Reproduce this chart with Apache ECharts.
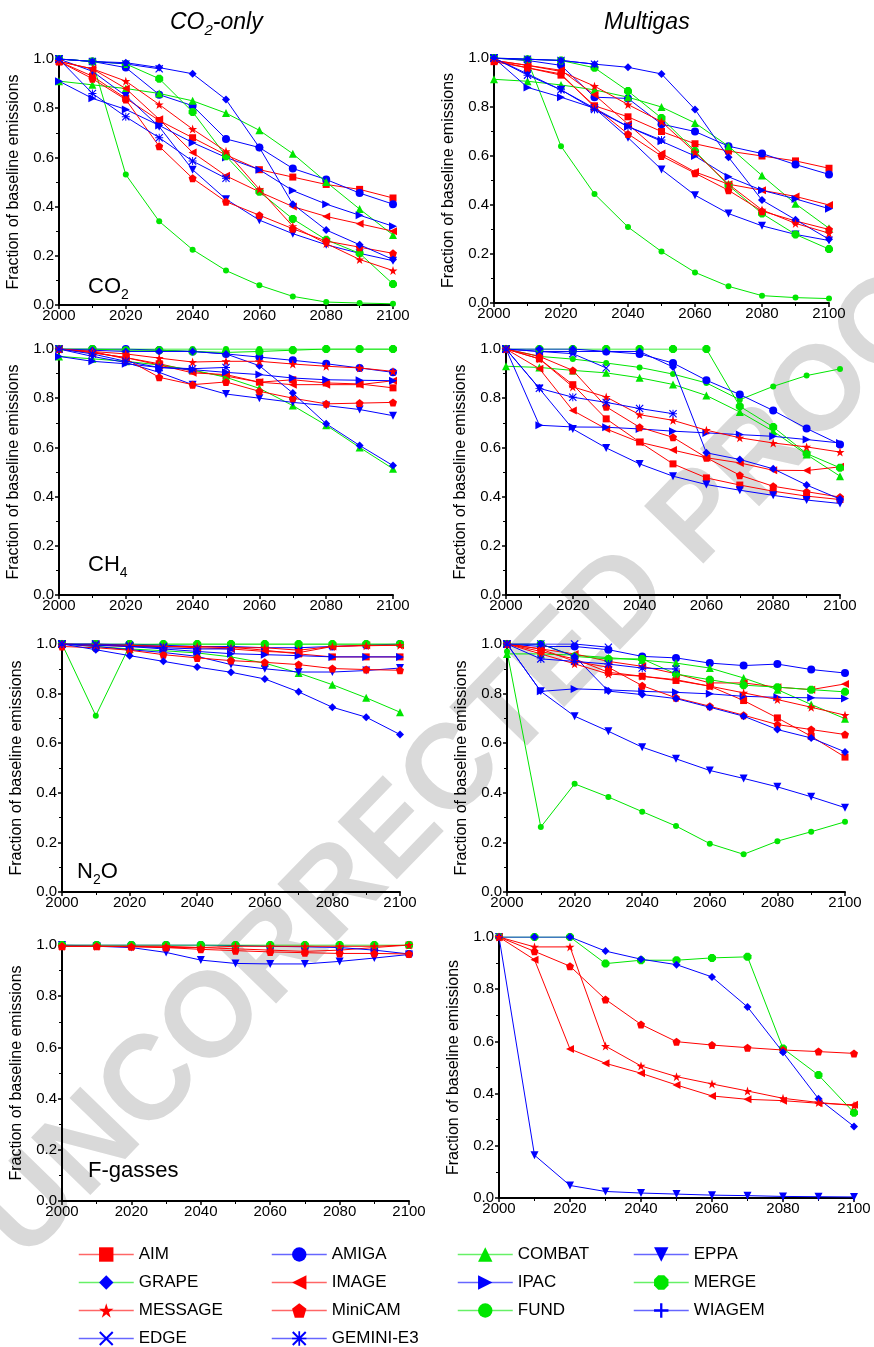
<!DOCTYPE html>
<html>
<head>
<meta charset="utf-8">
<script src="https://cdn.jsdelivr.net/npm/echarts@6/dist/echarts.min.js"></script>
<style>
html,body{margin:0;padding:0;background:#fff;}
#chart{width:874px;height:1347px;}
</style>
</head>
<body>
<div id="chart"></div>
<script>
// ---------------- DATA ----------------
const years = [2000, 2010, 2020, 2030, 2040, 2050, 2060, 2070, 2080, 2090, 2100];
const xTicks = [2000, 2020, 2040, 2060, 2080, 2100];
const yTicks = [0.0, 0.2, 0.4, 0.6, 0.8, 1.0];
const models = ['AIM','AMIGA','COMBAT','EPPA','GRAPE','IMAGE','IPAC','MERGE','MESSAGE','MiniCAM','FUND','WIAGEM','EDGE','GEMINI-E3'];
const columnTitles = ['CO2-only', 'Multigas'];
const gasLabels = ['CO2', 'CH4', 'N2O', 'F-gasses'];
const yAxisTitle = 'Fraction of baseline emissions';

// CO2-only scenario, CO2
const co2only_CO2 = {
  'AIM':      [0.99,0.93,0.84,0.75,0.68,0.61,0.55,0.52,0.49,0.47,0.435],
  'AMIGA':    [1.0,0.99,0.965,0.855,0.81,0.675,0.64,0.555,0.51,0.455,0.41],
  'COMBAT':   [0.91,0.895,0.88,0.86,0.83,0.78,0.71,0.615,0.50,0.39,0.285],
  'EPPA':     [1.0,0.95,0.85,0.725,0.55,0.43,0.345,0.29,0.245,0.21,0.18],
  'GRAPE':    [1.0,0.99,0.985,0.965,0.94,0.835,0.64,0.41,0.305,0.245,0.185],
  'IMAGE':    [0.99,0.96,0.88,0.755,0.62,0.525,0.46,0.40,0.36,0.33,0.30],
  'IPAC':     [0.91,0.84,0.795,0.73,0.66,0.60,0.55,0.465,0.41,0.365,0.32],
  'MERGE':    [1.0,0.99,0.98,0.92,0.785,0.605,0.46,0.35,0.265,0.21,0.085],
  'MESSAGE':  [0.99,0.96,0.91,0.815,0.715,0.625,0.47,0.32,0.25,0.185,0.14],
  'MiniCAM':  [0.99,0.92,0.835,0.645,0.515,0.42,0.365,0.31,0.26,0.235,0.21],
  'FUND':     [1.0,0.99,0.53,0.34,0.225,0.14,0.08,0.035,0.012,0.008,0.005],
  'EDGE':     [1.0,0.99,0.98,0.96],
  'GEMINI-E3':[1.0,0.86,0.765,0.68,0.585,0.515]
};
// Multigas scenario, CO2
const multigas_CO2 = {
  'AIM':      [0.985,0.96,0.93,0.805,0.76,0.70,0.65,0.62,0.60,0.58,0.55],
  'AMIGA':    [1.0,0.99,0.97,0.84,0.835,0.73,0.70,0.64,0.61,0.565,0.525],
  'COMBAT':   [0.913,0.905,0.89,0.87,0.84,0.80,0.735,0.64,0.52,0.405,0.305],
  'EPPA':     [1.0,0.935,0.87,0.795,0.675,0.545,0.44,0.365,0.315,0.28,0.255],
  'GRAPE':    [1.0,0.995,0.99,0.975,0.962,0.935,0.79,0.595,0.42,0.34,0.26],
  'IMAGE':    [0.99,0.97,0.95,0.85,0.73,0.61,0.535,0.485,0.46,0.435,0.40],
  'IPAC':     [1.0,0.88,0.84,0.795,0.72,0.66,0.60,0.515,0.46,0.425,0.385],
  'MERGE':    [1.0,0.995,0.99,0.96,0.865,0.755,0.62,0.48,0.365,0.28,0.22],
  'MESSAGE':  [0.99,0.97,0.945,0.885,0.81,0.74,0.615,0.485,0.38,0.325,0.285],
  'MiniCAM':  [0.99,0.96,0.935,0.80,0.69,0.60,0.53,0.46,0.375,0.335,0.30],
  'FUND':     [1.0,0.99,0.64,0.445,0.31,0.21,0.125,0.068,0.03,0.022,0.018],
  'EDGE':     [1.0,0.995,0.99,0.975],
  'GEMINI-E3':[1.0,0.93,0.87,0.79,0.72,0.665]
};
// CO2-only scenario, CH4
const co2only_CH4 = {
  'AIM':      [1.0,0.985,0.965,0.94,0.91,0.89,0.865,0.875,0.862,0.858,0.842],
  'AMIGA':    [1.0,1.0,1.0,0.995,0.99,0.98,0.967,0.954,0.94,0.923,0.905],
  'COMBAT':   [0.97,0.96,0.95,0.935,0.915,0.885,0.84,0.77,0.69,0.60,0.513],
  'EPPA':     [1.0,0.97,0.945,0.905,0.855,0.817,0.80,0.783,0.77,0.754,0.729],
  'GRAPE':    [1.0,0.995,0.99,0.99,0.99,0.98,0.932,0.821,0.696,0.608,0.526],
  'IMAGE':    [1.0,0.985,0.965,0.935,0.903,0.896,0.865,0.855,0.855,0.855,0.871],
  'IPAC':     [0.97,0.95,0.94,0.925,0.916,0.905,0.896,0.882,0.875,0.873,0.871],
  'MERGE':    [1.0,1.0,0.995,0.995,0.99,0.986,0.99,0.995,1.0,1.0,1.0],
  'MESSAGE':  [1.0,0.99,0.98,0.963,0.947,0.95,0.95,0.939,0.93,0.923,0.909],
  'MiniCAM':  [1.0,0.99,0.96,0.885,0.855,0.866,0.828,0.80,0.777,0.78,0.783],
  'FUND':     [1.0,1.0,1.0,1.0,1.0,1.0,1.0,1.0,1.0,1.0,1.0],
  'GEMINI-E3':[1.0,0.98,0.95,0.925,0.92,0.925]
};
// Multigas scenario, CH4
const multigas_CH4 = {
  'AIM':      [1.0,0.96,0.855,0.716,0.622,0.533,0.476,0.447,0.422,0.402,0.388],
  'AMIGA':    [1.0,0.99,0.99,0.99,0.98,0.943,0.873,0.815,0.75,0.677,0.612],
  'COMBAT':   [0.93,0.925,0.913,0.903,0.883,0.856,0.811,0.744,0.666,0.571,0.483],
  'EPPA':     [1.0,0.839,0.675,0.598,0.533,0.483,0.449,0.426,0.405,0.386,0.372],
  'GRAPE':    [1.0,1.0,1.0,0.99,0.99,0.927,0.578,0.551,0.513,0.447,0.39],
  'IMAGE':    [1.0,0.92,0.75,0.675,0.621,0.589,0.558,0.537,0.507,0.506,0.521],
  'IPAC':     [1.0,0.69,0.683,0.682,0.675,0.666,0.659,0.652,0.645,0.632,0.618],
  'MERGE':    [1.0,1.0,1.0,1.0,1.0,1.0,1.0,0.767,0.683,0.575,0.517],
  'MESSAGE':  [1.0,0.96,0.846,0.805,0.733,0.71,0.67,0.639,0.618,0.602,0.581],
  'MiniCAM':  [1.0,0.97,0.913,0.765,0.682,0.641,0.558,0.487,0.442,0.42,0.398],
  'FUND':     [1.0,0.97,0.959,0.943,0.925,0.898,0.862,0.794,0.848,0.892,0.919],
  'EDGE':     [1.0,0.99,0.981,0.923],
  'GEMINI-E3':[1.0,0.84,0.804,0.783,0.758,0.737]
};
// CO2-only scenario, N2O
const co2only_N2O = {
  'AIM':      [1.0,1.0,0.995,0.99,0.99,0.987,0.975,0.96,0.948,0.948,0.948],
  'AMIGA':    [1.0,1.0,1.0,0.995,0.99,0.99,0.985,0.985,0.99,0.995,1.0],
  'COMBAT':   [1.0,0.99,0.98,0.973,0.964,0.948,0.923,0.883,0.836,0.783,0.725],
  'EPPA':     [1.0,0.99,0.977,0.966,0.95,0.917,0.90,0.887,0.887,0.893,0.903],
  'GRAPE':    [1.0,0.977,0.953,0.93,0.907,0.886,0.859,0.807,0.745,0.705,0.635],
  'IMAGE':    [1.0,0.995,0.99,0.99,0.985,0.98,0.97,0.965,0.99,0.995,0.995],
  'IPAC':     [1.0,1.0,0.99,0.98,0.97,0.961,0.957,0.953,0.948,0.948,0.948],
  'MERGE':    [1.0,1.0,1.0,1.0,1.0,1.0,1.0,1.0,1.0,1.0,1.0],
  'MESSAGE':  [1.0,0.995,0.995,0.99,0.99,0.985,0.985,0.975,0.99,0.993,0.995],
  'MiniCAM':  [0.99,0.985,0.975,0.957,0.944,0.933,0.926,0.917,0.901,0.897,0.894],
  'FUND':     [1.0,0.711,0.993,1.0,1.0,1.0,1.0,1.0,1.0,1.0,1.0],
  'EDGE':     [1.0,1.0,0.995,0.99],
  'GEMINI-E3':[1.0,0.995,0.99,0.985,0.98,0.98]
};
// Multigas scenario, N2O
const multigas_N2O = {
  'AIM':      [1.0,0.97,0.94,0.886,0.87,0.853,0.83,0.772,0.702,0.628,0.544],
  'AMIGA':    [1.0,0.99,0.99,0.977,0.95,0.944,0.923,0.913,0.919,0.897,0.883],
  'COMBAT':   [0.96,0.96,0.955,0.945,0.935,0.923,0.903,0.863,0.816,0.756,0.699],
  'EPPA':     [1.0,0.809,0.709,0.648,0.584,0.537,0.49,0.458,0.424,0.384,0.34],
  'GRAPE':    [1.0,1.0,0.95,0.81,0.796,0.78,0.745,0.709,0.655,0.621,0.565],
  'IMAGE':    [1.0,0.98,0.96,0.93,0.91,0.88,0.843,0.843,0.826,0.816,0.839],
  'IPAC':     [1.0,0.809,0.819,0.815,0.809,0.805,0.799,0.789,0.785,0.783,0.78],
  'MERGE':    [1.0,1.0,0.95,0.94,0.94,0.879,0.856,0.834,0.826,0.816,0.807],
  'MESSAGE':  [1.0,0.96,0.92,0.879,0.87,0.856,0.83,0.803,0.776,0.745,0.713],
  'MiniCAM':  [1.0,0.98,0.93,0.906,0.832,0.783,0.749,0.713,0.675,0.655,0.635],
  'FUND':     [0.97,0.262,0.436,0.383,0.324,0.266,0.195,0.152,0.205,0.243,0.283],
  'EDGE':     [1.0,1.0,1.0,0.987],
  'GEMINI-E3':[1.0,0.94,0.93,0.919,0.903,0.899]
};
// CO2-only scenario, F-gasses
const co2only_F = {
  'AIM':      [0.995,0.995,0.995,0.99,0.99,0.985,0.98,0.975,0.98,0.99,1.0],
  'AMIGA':    [1.0,1.0,1.0,1.0,1.0,0.998,0.995,0.993,0.99,0.98,0.965],
  'EPPA':     [1.0,0.995,0.99,0.971,0.941,0.928,0.926,0.926,0.936,0.949,0.963],
  'MERGE':    [1.0,1.0,1.0,1.0,1.0,1.0,1.0,1.0,1.0,1.0,1.0],
  'MESSAGE':  [0.995,0.995,0.995,0.995,0.99,0.995,0.995,0.995,0.995,0.995,1.0],
  'MiniCAM':  [0.995,0.995,0.993,0.99,0.983,0.978,0.973,0.97,0.967,0.967,0.965]
};
// Multigas scenario, F-gasses
const multigas_F = {
  'EPPA':     [1.0,0.164,0.048,0.025,0.019,0.015,0.011,0.009,0.006,0.005,0.004],
  'MERGE':    [1.0,1.0,1.0,0.898,0.911,0.911,0.92,0.924,0.573,0.471,0.327],
  'GRAPE':    [1.0,1.0,1.0,0.946,0.915,0.894,0.847,0.732,0.558,0.38,0.274],
  'MiniCAM':  [1.0,0.945,0.888,0.761,0.665,0.599,0.586,0.576,0.567,0.561,0.554],
  'MESSAGE':  [1.0,0.962,0.962,0.582,0.506,0.465,0.437,0.41,0.382,0.366,0.354],
  'IMAGE':    [1.0,0.913,0.571,0.516,0.478,0.433,0.391,0.378,0.373,0.363,0.357]
};
const panels = [co2only_CO2, multigas_CO2, co2only_CH4, multigas_CH4, co2only_N2O, multigas_N2O, co2only_F, multigas_F];

// ---------------- STYLE ----------------
const FONT = '"Liberation Sans", Arial, Helvetica, sans-serif';
const RED = '#ff0000', BLUE = '#0000ff', GREEN = '#00e600';
const SYM = {
  down: 'path://M0,0L10,0L5,9Z',
  left: 'path://M9,0L9,10L0,5Z',
  right:'path://M0,0L9,5L0,10Z',
  star: 'path://M5,0L6.2,3.6L10,3.6L6.9,5.9L8.1,9.5L5,7.3L1.9,9.5L3.1,5.9L0,3.6L3.8,3.6Z',
  pent: 'path://M5,0L10,3.8L8.1,10L1.9,10L0,3.8Z',
  hex:  'path://M2.9,0L7.1,0L10,2.9L10,7.1L7.1,10L2.9,10L0,7.1L0,2.9Z',
  plus: 'path://M4.2,0L5.8,0L5.8,4.2L10,4.2L10,5.8L5.8,5.8L5.8,10L4.2,10L4.2,5.8L0,5.8L0,4.2L4.2,4.2Z',
  cross:'path://M0,1L1,0L5,4L9,0L10,1L6,5L10,9L9,10L5,6L1,10L0,9L4,5Z',
  ast:  'path://M0,1L1,0L5,4L9,0L10,1L6,5L10,9L9,10L5,6L1,10L0,9L4,5ZM4.4,0L5.6,0L5.6,10L4.4,10ZM0,4.4L10,4.4L10,5.6L0,5.6Z'
};
const modelStyle = {
  'AIM':      {c: RED,   s: 'rect',     z: 7, size: 7},
  'AMIGA':    {c: BLUE,  s: 'circle',   z: 7, size: 8},
  'COMBAT':   {c: GREEN, s: 'triangle', z: 8, size: 8},
  'EPPA':     {c: BLUE,  s: SYM.down,   z: 8, size: 8},
  'GRAPE':    {c: BLUE,  s: 'diamond',  z: 9, size: 8, legendLine: GREEN},
  'IMAGE':    {c: RED,   s: SYM.left,   z: 8, size: 8},
  'IPAC':     {c: BLUE,  s: SYM.right,  z: 8, size: 8},
  'MERGE':    {c: GREEN, s: SYM.hex,    z: 8, size: 8},
  'MESSAGE':  {c: RED,   s: SYM.star,   z: 9, size: 9},
  'MiniCAM':  {c: RED,   s: SYM.pent,   z: 8, size: 8},
  'FUND':     {c: GREEN, s: 'circle',   z: 6, size: 6},
  'WIAGEM':   {c: BLUE,  s: SYM.plus,   z: 9, size: 8},
  'EDGE':     {c: BLUE,  s: SYM.cross,  z: 8, size: 8},
  'GEMINI-E3':{c: BLUE,  s: SYM.ast,    z: 9, size: 8}
};

const grids = [
  {left: 59,  top: 59,  width: 334, height: 246},
  {left: 494, top: 58,  width: 335, height: 245},
  {left: 59,  top: 349, width: 334, height: 246},
  {left: 506, top: 349, width: 334, height: 246},
  {left: 62,  top: 644, width: 338, height: 248},
  {left: 507, top: 644, width: 338, height: 248},
  {left: 62,  top: 945, width: 347, height: 256},
  {left: 499, top: 937, width: 355, height: 261}
];

const xAxes = grids.map((g, i) => ({
  type: 'value', gridIndex: i, min: xTicks[0], max: xTicks[xTicks.length - 1],
  interval: xTicks[1] - xTicks[0],
  axisLine: {show: true, onZero: false, lineStyle: {color: '#000', width: 2}},
  axisTick: {show: true, length: 4, lineStyle: {color: '#000', width: 1.5}},
  minorTick: {show: true, splitNumber: 2, length: 3, lineStyle: {color: '#000', width: 1}},
  splitLine: {show: false},
  axisLabel: {color: '#000', fontSize: 15, fontFamily: FONT, margin: 3,
    formatter: v => String(v)}
}));
const yAxes = grids.map((g, i) => ({
  type: 'value', gridIndex: i, min: yTicks[0], max: yTicks[yTicks.length - 1],
  interval: yTicks[1] - yTicks[0],
  name: yAxisTitle, nameLocation: 'middle', nameGap: 37,
  nameTextStyle: {color: '#000', fontSize: 16, fontFamily: FONT},
  axisLine: {show: true, onZero: false, lineStyle: {color: '#000', width: 2}},
  axisTick: {show: true, length: 4, lineStyle: {color: '#000', width: 1.5}},
  minorTick: {show: true, splitNumber: 2, length: 3, lineStyle: {color: '#000', width: 1}},
  splitLine: {show: false},
  axisLabel: {color: '#000', fontSize: 15, fontFamily: FONT, margin: 5,
    formatter: v => v.toFixed(1)}
}));

const series = [];
panels.forEach((pd, pi) => {
  models.forEach(m => {
    if (!pd[m]) return;
    const st = modelStyle[m];
    series.push({
      type: 'line', name: m, xAxisIndex: pi, yAxisIndex: pi,
      data: pd[m].map((v, k) => [years[k], v]),
      symbol: st.s, symbolSize: st.size,
      lineStyle: {color: st.c, width: 1},
      itemStyle: {color: st.c},
      z: st.z, animation: false, silent: true
    });
  });
});
// WIAGEM appears only in the legend
series.push({type: 'line', name: 'WIAGEM', xAxisIndex: 0, yAxisIndex: 0, data: [],
  symbol: modelStyle['WIAGEM'].s, symbolSize: 8, lineStyle: {color: BLUE, width: 1}, itemStyle: {color: BLUE}});

const legendCols = [
  {left: 78,  names: ['AIM','GRAPE','MESSAGE','EDGE']},
  {left: 271, names: ['AMIGA','IMAGE','MiniCAM','GEMINI-E3']},
  {left: 457, names: ['COMBAT','IPAC','FUND']},
  {left: 633, names: ['EPPA','MERGE','WIAGEM']}
];
const legends = legendCols.map(col => ({
  type: 'plain', orient: 'vertical', left: col.left, top: 1246, height: 140,
  itemWidth: 55, itemHeight: 18, itemGap: 11, selectedMode: false, padding: 0,
  textStyle: {color: '#000', fontSize: 17, fontFamily: FONT},
  data: col.names.map(n => {
    const st = modelStyle[n];
    return {name: n,
      itemStyle: {color: st.c},
      lineStyle: {color: st.legendLine || st.c, width: 1.5, opacity: 0.6}};
  })
}));

const richMain = (size) => ({
  a: {fontSize: size, fontWeight: 'normal', fontFamily: FONT, color: '#000', lineHeight: 30},
  b: {fontSize: Math.round(size * 0.65), fontWeight: 'normal', fontFamily: FONT, color: '#000', lineHeight: 12, verticalAlign: 'bottom'},
  ai: {fontSize: size, fontWeight: 'normal', fontFamily: FONT, fontStyle: 'italic', color: '#000', lineHeight: 30},
  bi: {fontSize: Math.round(size * 0.65), fontWeight: 'normal', fontFamily: FONT, fontStyle: 'italic', color: '#000', lineHeight: 12, verticalAlign: 'bottom'}
});
function richLabel(str, italic) {
  const A = italic ? 'ai' : 'a', B = italic ? 'bi' : 'b';
  return str.replace(/([A-Za-z])(\d)/g, '$1\u0000$2\u0001')
    .split(/(\u0000\d\u0001)/).filter(s => s.length)
    .map(s => s.startsWith('\u0000') ? '{' + B + '|' + s.slice(1, -1) + '}' : '{' + A + '|' + s + '}')
    .join('');
}
const tStyle = (size) => ({fontWeight: 'normal', rich: richMain(size)});
const titles = [
  {text: richLabel(columnTitles[0], true), left: 170, top: 8, padding: 0, textStyle: tStyle(23)},
  {text: richLabel(columnTitles[1], true), left: 604, top: 8, padding: 0, textStyle: tStyle(23)},
  {text: richLabel(gasLabels[0], false), left: 88, top: 272, padding: 0, textStyle: tStyle(22)},
  {text: richLabel(gasLabels[1], false), left: 88, top: 550, padding: 0, textStyle: tStyle(22)},
  {text: richLabel(gasLabels[2], false), left: 77, top: 857, padding: 0, textStyle: tStyle(22)},
  {text: richLabel(gasLabels[3], false), left: 88, top: 1156, padding: 0, textStyle: tStyle(22)}
];

const option = {
  backgroundColor: '#fff',
  textStyle: {fontFamily: FONT},
  animation: false,
  title: titles,
  legend: legends,
  grid: grids,
  xAxis: xAxes,
  yAxis: yAxes,
  series: series,
  graphic: [{
    type: 'text', x: 486, y: 740, rotation: 0.80, z: -10, silent: true,
    style: {text: 'UNCORRECTED PROOF', fontSize: 120, fontWeight: 'bold', fontFamily: FONT,
      fill: '#d9d9d9', align: 'center', verticalAlign: 'middle',
      textAlign: 'center', textVerticalAlign: 'middle'}
  }]
};
const chart = echarts.init(document.getElementById('chart'), null, {renderer: 'canvas'});
chart.setOption(option);
</script>
</body>
</html>
